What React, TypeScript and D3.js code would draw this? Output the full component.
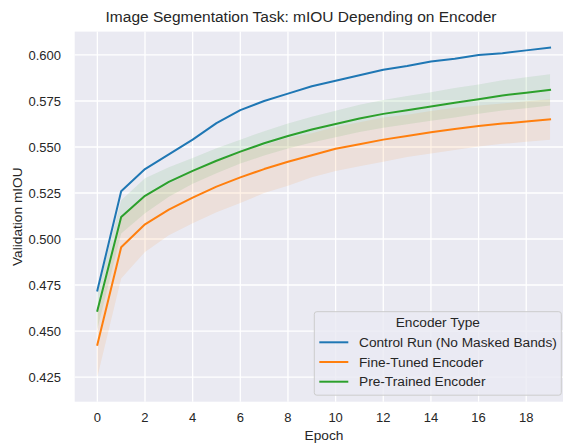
import React from "react";
import * as d3 from "d3";

const epochs = d3.range(0, 20);
const controlRun = [0.472, 0.526, 0.538, 0.546, 0.554, 0.563, 0.570, 0.575, 0.579, 0.583, 0.586, 0.589, 0.592, 0.594, 0.5965, 0.598, 0.600, 0.601, 0.6025, 0.604];
const fineTuned = [0.4425, 0.4955, 0.508, 0.516, 0.5225, 0.5285, 0.5335, 0.538, 0.542, 0.5455, 0.549, 0.5515, 0.554, 0.556, 0.558, 0.5598, 0.5614, 0.5627, 0.5638, 0.565];
const fineTunedHalfWidth = [0.0175, 0.017, 0.015, 0.014, 0.014, 0.014, 0.014, 0.013, 0.013, 0.012, 0.012, 0.012, 0.012, 0.0115, 0.0115, 0.0115, 0.0112, 0.011, 0.011, 0.011];
const preTrained = [0.461, 0.512, 0.5235, 0.531, 0.537, 0.5425, 0.5475, 0.552, 0.556, 0.5595, 0.5625, 0.5655, 0.568, 0.570, 0.572, 0.574, 0.576, 0.578, 0.5795, 0.581];
const preTrainedHalfWidth = [0.01, 0.009, 0.0095, 0.008, 0.007, 0.0068, 0.0065, 0.0066, 0.0068, 0.007, 0.0072, 0.0074, 0.0075, 0.0077, 0.0078, 0.008, 0.008, 0.0082, 0.0084, 0.0085];

const seriesNames = ["Control Run (No Masked Bands)", "Fine-Tuned Encoder", "Pre-Trained Encoder"];
const seriesColors = ["#1f77b4", "#ff7f0e", "#2ca02c"];
const yTicks = [0.425, 0.45, 0.475, 0.5, 0.525, 0.55, 0.575, 0.6];
const xTicks = [0, 2, 4, 6, 8, 10, 12, 14, 16, 18];

const W = 563, H = 445;
const L = 74.7, R = 572.7, T = 31.6, B = 401.7;
const FONT = "'Liberation Sans', Arial, sans-serif";
const TXT = "#262626";

export default function App() {
  const x = d3.scaleLinear().domain([-0.95, 19.95]).range([L, R]);
  const y = d3.scaleLinear().domain([0.4116, 0.6127]).range([B, T]);
  const line = (vals: number[]) =>
    d3.line<number>().x((_, i) => x(epochs[i])).y((v) => y(v))(vals) || "";
  const band = (vals: number[], hw: number[]) =>
    d3.area<number>()
      .x((_, i) => x(epochs[i]))
      .y0((v, i) => y(v - hw[i]))
      .y1((v, i) => y(v + hw[i]))(vals) || "";

  const series = [controlRun, fineTuned, preTrained];
  const legX = 314.3, legY = 311.7, legW = 247, legH = 83.5;

  return (
    <svg width={W} height={H} style={{ position: "absolute", left: 0, top: 0, background: "#fff" }} fontFamily={FONT}>
      <defs>
        <clipPath id="plot"><rect x={L} y={T} width={R - L} height={B - T} /></clipPath>
      </defs>
      <rect x={L} y={T} width={R - L} height={B - T} fill="#EAEAF2" />
      {yTicks.map((t) => (
        <line key={"gy" + t} x1={L} x2={R} y1={y(t)} y2={y(t)} stroke="#fff" strokeWidth={1.3} />
      ))}
      {xTicks.map((t) => (
        <line key={"gx" + t} x1={x(t)} x2={x(t)} y1={T} y2={B} stroke="#fff" strokeWidth={1.3} />
      ))}
      <g clipPath="url(#plot)">
        <path d={band(fineTuned, fineTunedHalfWidth)} fill={seriesColors[1]} fillOpacity={0.1} />
        <path d={band(preTrained, preTrainedHalfWidth)} fill={seriesColors[2]} fillOpacity={0.1} />
        {series.map((s, i) => (
          <path key={i} d={line(s)} fill="none" stroke={seriesColors[i]} strokeWidth={2} strokeLinejoin="round" strokeLinecap="square" />
        ))}
      </g>
      {yTicks.map((t) => (
        <text key={"ty" + t} x={61} y={y(t)} dy="0.35em" textAnchor="end" fontSize={13} fill={TXT}>
          {d3.format(".3f")(t)}
        </text>
      ))}
      {xTicks.map((t) => (
        <text key={"tx" + t} x={x(t)} y={417.5} dy="0.35em" textAnchor="middle" fontSize={13} fill={TXT}>
          {t}
        </text>
      ))}
      <text x={324} y={435.5} dy="0.35em" textAnchor="middle" fontSize={13.7} fill={TXT}>Epoch</text>
      <text transform={`translate(17,216.7) rotate(-90)`} dy="0.35em" textAnchor="middle" fontSize={13.7} fill={TXT}>Validation mIOU</text>
      <text x={301} y={16.7} dy="0.35em" textAnchor="middle" fontSize={15.5} fill={TXT}>
        Image Segmentation Task: mIOU Depending on Encoder
      </text>
      <g>
        <rect x={legX} y={legY} width={legW} height={legH} rx={2.5} fill="#EAEAF2" fillOpacity={0.8} stroke="#cccccc" strokeWidth={1} />
        <text x={legX + legW / 2} y={322.7} dy="0.35em" textAnchor="middle" fontSize={13.7} fill={TXT}>Encoder Type</text>
        {seriesNames.map((n, i) => {
          const cy = 342.3 + i * 19.7;
          return (
            <g key={n}>
              <line x1={319.3} x2={348.3} y1={cy} y2={cy} stroke={seriesColors[i]} strokeWidth={2} />
              <text x={359} y={cy} dy="0.35em" fontSize={13.7} fill={TXT}>{n}</text>
            </g>
          );
        })}
      </g>
    </svg>
  );
}
